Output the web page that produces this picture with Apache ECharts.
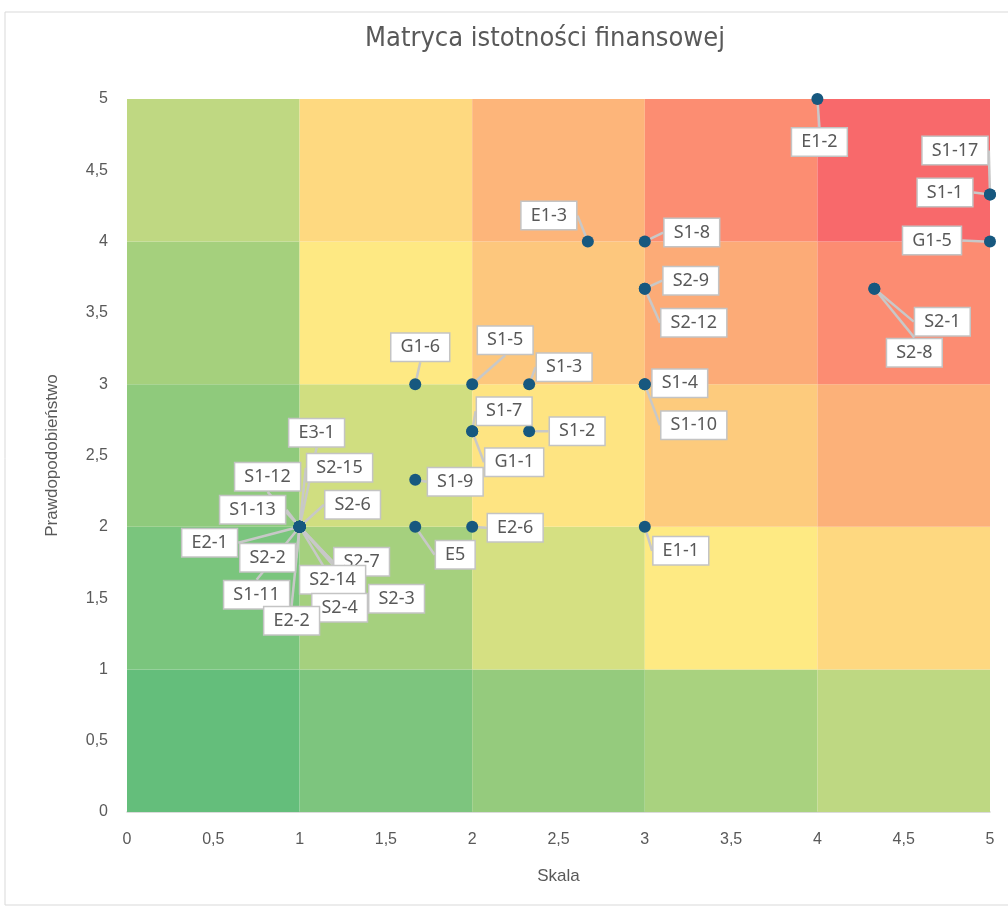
<!DOCTYPE html>
<html>
<head>
<meta charset="utf-8">
<script src="https://cdn.jsdelivr.net/npm/echarts@6/dist/echarts.min.js"></script>
<style>
  html, body { margin: 0; padding: 0; background: #fff; }
  #chart { width: 1008px; height: 908px; }
</style>
</head>
<body>
<div id="chart"></div>
<script>
// punkty matrycy
const names = ['E1-2', 'S1-17', 'S1-1', 'G1-5', 'E1-3', 'S1-8', 'S2-9', 'S2-12', 'S2-1', 'S2-8',
  'G1-6', 'S1-5', 'S1-3', 'S1-4', 'S1-10', 'S1-7', 'G1-1', 'S1-2', 'S1-9', 'E5', 'E2-6', 'E1-1',
  'E3-1', 'S1-12', 'S2-15', 'S1-13', 'S2-6', 'E2-1', 'S2-2', 'S2-7', 'S2-14', 'S1-11', 'S2-4', 'S2-3', 'E2-2'];
const skala = [4, 5, 5, 5, 2.67, 3, 3, 3, 4.33, 4.33,
  1.67, 2, 2.33, 3, 3, 2, 2, 2.33, 1.67, 1.67, 2, 3,
  1, 1, 1, 1, 1, 1, 1, 1, 1, 1, 1, 1, 1];
const prawdop = [5, 4.33, 4.33, 4, 4, 4, 3.67, 3.67, 3.67, 3.67,
  3, 3, 3, 3, 3, 2.67, 2.67, 2.67, 2.33, 2, 2, 2,
  2, 2, 2, 2, 2, 2, 2, 2, 2, 2, 2, 2, 2];

// przesunięcia etykiet (px) względem punktu
const labelOffsets = {
  'E1-2': [2, 43], 'S1-17': [-35, -44], 'S1-1': [-45, -2], 'G1-5': [-58, -1],
  'E1-3': [-39, -26], 'S1-8': [47, -9], 'S2-9': [46, -8], 'S2-12': [49, 34],
  'S2-1': [68, 33], 'S2-8': [40, 64], 'G1-6': [5, -37], 'S1-5': [33, -44],
  'S1-3': [35, -17], 'S1-4': [35, -1], 'S1-10': [49, 41], 'S1-7': [32, -20],
  'G1-1': [42, 31], 'S1-2': [48, 0], 'S1-9': [40, 2], 'E5': [40, 28],
  'E2-6': [43, 1], 'E1-1': [36, 24],
  'E3-1': [17, -94], 'S1-12': [-32, -50], 'S2-15': [40, -59], 'S1-13': [-47, -17],
  'S2-6': [53, -22], 'E2-1': [-90, 16], 'S2-2': [-32, 31], 'S2-7': [62, 35],
  'S2-14': [33, 53], 'S1-11': [-43, 68], 'S2-4': [40, 81], 'S2-3': [97, 72], 'E2-2': [-8, 94]
};

// tło - kolory pól 5x5 (wiersz od dołu, kolumna od lewej)
const cellColors = [
  ['#64be7b', '#7dc57e', '#95cb7d', '#a9d27f', '#bed882'],
  ['#7ac57d', '#a5d07e', '#d5e082', '#feea83', '#fed880'],
  ['#8fca7c', '#d0de80', '#fee482', '#fdcb7d', '#fcb179'],
  ['#a5d07d', '#fee983', '#fdc77d', '#fcab77', '#fc8c72'],
  ['#bfd882', '#fed980', '#fdb57a', '#fc8d72', '#f8696b']
];

const cells = [];
for (let r = 0; r < 5; r++) {
  for (let c = 0; c < 5; c++) {
    cells.push([c, r, r * 5 + c]);
  }
}
const flatColors = cellColors.flat();

const textColor = '#595959';
const fmt = v => String(v).replace('.', ',');

const chart = echarts.init(document.getElementById('chart'));

const option = {
  animation: false,
  graphic: [
    {
      type: 'rect',
      shape: { x: 5, y: 12, width: 1020, height: 893 },
      style: { fill: 'none', stroke: '#d9d9d9', lineWidth: 1 },
      silent: true
    },
    {
      type: 'text',
      x: 545,
      y: 25,
      style: {
        text: 'Matryca istotności finansowej',
        fill: textColor,
        fontSize: 27,
        fontFamily: "'DejaVu Sans Condensed', 'Liberation Sans Narrow', 'Roboto', sans-serif",
        textAlign: 'center',
        textVerticalAlign: 'top'
      }
    }
  ],
  grid: {
    left: 127,
    right: 18,
    top: 99,
    bottom: 96
  },
  xAxis: {
    type: 'value',
    min: 0,
    max: 5,
    interval: 0.5,
    name: 'Skala',
    nameLocation: 'middle',
    nameGap: 56,
    nameTextStyle: { color: textColor, fontSize: 17 },
    axisLine: { show: true, lineStyle: { color: '#d0d0d0', width: 1.5 } },
    axisTick: { show: false },
    splitLine: { show: false },
    axisLabel: { color: textColor, fontSize: 16, margin: 20, formatter: fmt }
  },
  yAxis: {
    type: 'value',
    min: 0,
    max: 5,
    interval: 0.5,
    name: 'Prawdopodobieństwo',
    nameLocation: 'middle',
    nameGap: 66,
    nameTextStyle: { color: textColor, fontSize: 17 },
    axisLine: { show: false },
    axisTick: { show: false },
    splitLine: { show: false },
    axisLabel: { color: textColor, fontSize: 16, margin: 19, formatter: fmt }
  },
  series: [
    {
      type: 'custom',
      silent: true,
      z: 1,
      data: cells,
      renderItem: function (params, api) {
        const p0 = api.coord([api.value(0), api.value(1)]);
        const p1 = api.coord([api.value(0) + 1, api.value(1) + 1]);
        return {
          type: 'rect',
          shape: { x: p0[0], y: p1[1], width: p1[0] - p0[0], height: p0[1] - p1[1] },
          style: { fill: flatColors[api.value(2)] }
        };
      }
    },
    {
      type: 'scatter',
      z: 3,
      symbolSize: 12,
      itemStyle: { color: '#17587f', opacity: 1 },
      data: names.map((n, i) => ({ name: n, value: [skala[i], prawdop[i]] })),
      label: {
        show: true,
        position: 'inside',
        formatter: '{b}',
        color: textColor,
        fontSize: 18,
        fontFamily: "'Noto Sans', sans-serif",
        backgroundColor: '#fff',
        borderColor: '#c4c4c4',
        borderWidth: 1.5,
        padding: [5, 9, 4, 9]
      },
      labelLine: {
        show: true,
        lineStyle: { color: '#c8c8c8', width: 2.5, opacity: 1 }
      },
      labelLayout: function (params) {
        const off = labelOffsets[names[params.dataIndex]] || [0, 0];
        return { dx: off[0], dy: off[1] };
      }
    }
  ]
};

chart.setOption(option);
window.addEventListener('resize', function () {
  chart.resize();
});
</script>
</body>
</html>
